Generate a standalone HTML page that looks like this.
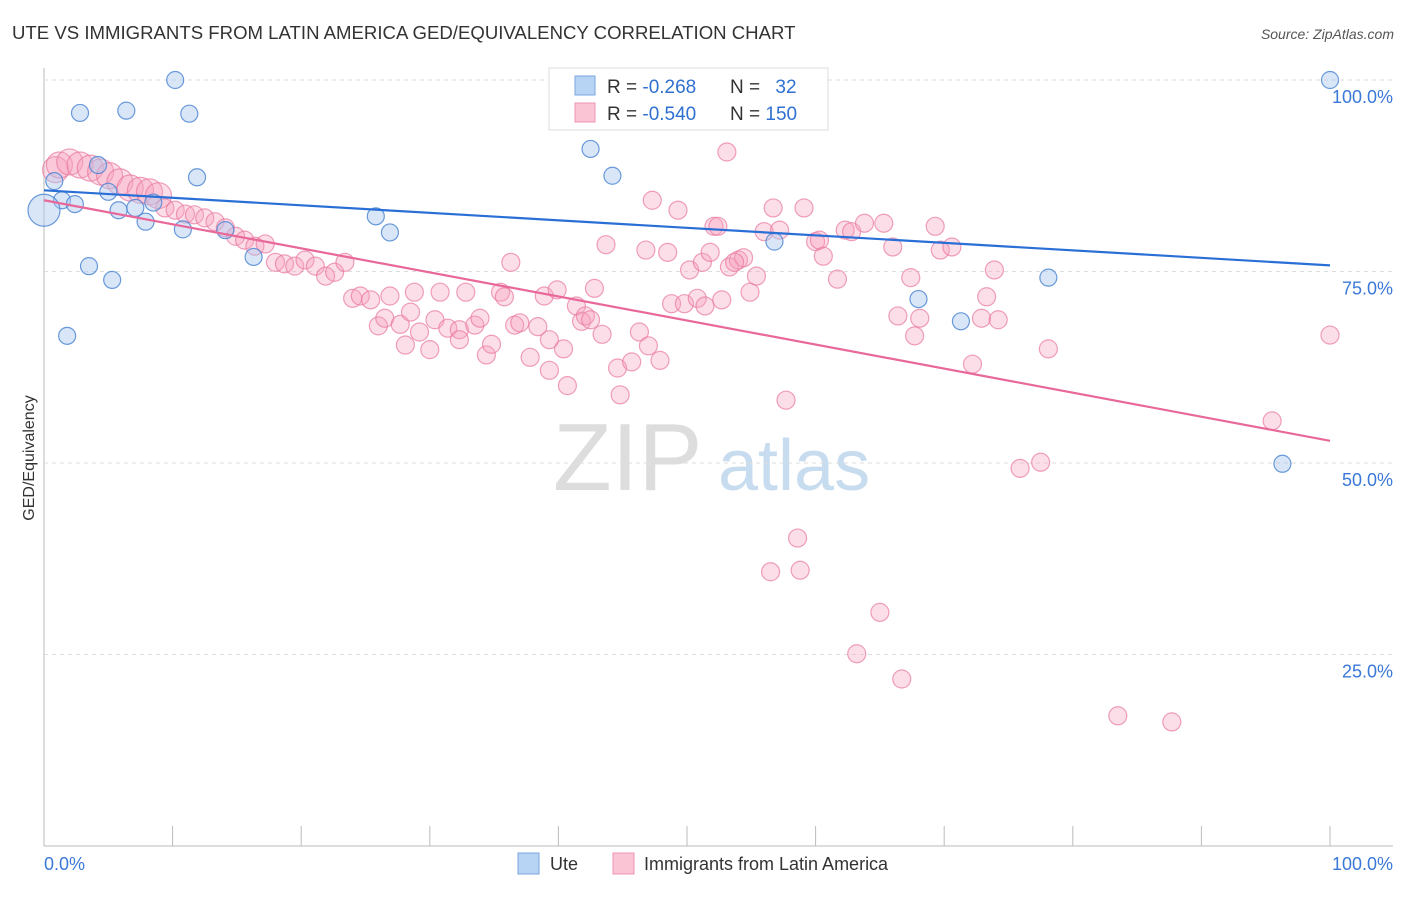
<!DOCTYPE html>
<html><head><meta charset="utf-8"><style>
body{margin:0;background:#fff;font-family:"Liberation Sans",sans-serif;}
svg text{font-family:"Liberation Sans",sans-serif;}
</style></head><body>
<svg id="chart" width="1406" height="892">
<text x="12" y="39" font-size="18.6" fill="#333">UTE VS IMMIGRANTS FROM LATIN AMERICA GED/EQUIVALENCY CORRELATION CHART</text>
<text x="1394" y="39" font-size="14" fill="#555" font-style="italic" text-anchor="end">Source: ZipAtlas.com</text>
<text transform="translate(34,458) rotate(-90)" font-size="16" fill="#333" text-anchor="middle">GED/Equivalency</text>
<g><text x="553" y="490" font-size="96" font-family="Liberation Serif,serif" fill="#ddd">ZIP</text><text x="718" y="490" font-size="72" fill="#c8dcf0">atlas</text></g>
<g id="grid"></g><g id="pts"></g><g id="lines"></g>
<g>
<rect x="549" y="68" width="279" height="62" fill="#fff" stroke="#ddd"/>
<rect x="575" y="76" width="20" height="19" fill="#b8d4f4" stroke="#7aa6dc"/>
<rect x="575" y="103" width="20" height="19" fill="#fbc4d4" stroke="#ee94b0"/>
<text x="607" y="93" font-size="19" fill="#333">R = <tspan fill="#3070d0">-0.268</tspan></text>
<text x="730" y="93" font-size="19" fill="#333">N = <tspan fill="#3070d0" dx="10">32</tspan></text>
<text x="607" y="120" font-size="19" fill="#333">R = <tspan fill="#3070d0">-0.540</tspan></text>
<text x="730" y="120" font-size="19" fill="#333">N = <tspan fill="#3070d0">150</tspan></text>
</g>
<g>
<rect x="518" y="853" width="21" height="21" fill="#b8d4f4" stroke="#7aa6dc"/>
<text x="550" y="870" font-size="18" fill="#333">Ute</text>
<rect x="613" y="853" width="21" height="21" fill="#fbc4d4" stroke="#ee94b0"/>
<text x="644" y="870" font-size="18" fill="#333">Immigrants from Latin America</text>
</g>
<text x="44" y="870" font-size="18" fill="#3b78d8">0.0%</text>
<text x="1393" y="870" font-size="18" fill="#3b78d8" text-anchor="end">100.0%</text>
</svg>
<script>
const yTicks=[100,75,50,25];
const yTickLabels=["100.0%","75.0%","50.0%","25.0%"];
const uteX=[10.2,2.8,6.4,11.3,0.8,4.2,11.9,1.4,2.4,5.0,5.8,7.1,7.9,10.8,14.1,16.3,3.5,5.3,1.8,0,25.8,26.9,42.5,44.2,54.6,56.8,68.0,71.3,78.1,96.3,100,8.5];
const uteY=[100,95.7,96.0,95.6,86.8,88.9,87.3,84.3,83.8,85.4,83.0,83.3,81.5,80.5,80.4,76.9,75.7,73.9,66.6,83.0,82.2,80.1,91.0,87.5,100,78.9,71.4,68.5,74.2,49.9,100,84.0];
const latX=[0.9,1.2,2.0,2.8,3.6,4.4,5.1,5.9,6.7,7.5,8.2,8.9,9.4,10.2,11.0,11.7,12.5,13.3,14.1,14.9,15.6,16.4,17.2,18.0,18.7,19.5,20.3,21.1,21.9,22.6,23.4,24.0,24.6,25.4,26.0,26.5,26.9,27.7,28.5,28.8,29.2,30.4,30.8,31.4,32.3,32.8,33.5,33.9,34.4,34.8,35.5,35.8,36.3,36.6,37.0,37.8,38.4,38.9,39.3,39.9,40.4,40.7,41.4,41.8,42.1,42.8,43.4,43.7,44.6,44.8,45.7,46.3,46.8,47.3,47.9,48.5,48.8,49.3,49.8,50.2,50.8,51.2,51.8,52.1,52.7,53.1,53.3,54.0,54.4,54.9,55.4,56.0,56.7,57.2,57.7,58.6,58.8,59.1,60.0,60.3,60.6,61.7,62.3,62.8,63.2,63.8,65.0,65.3,66.0,66.4,66.7,67.4,67.7,68.1,69.3,69.7,70.6,72.2,72.9,73.3,73.9,74.2,75.9,77.5,78.1,83.5,87.7,95.5,100,56.5,52.4,53.7,51.4,47.0,42.5,32.3,30.0,28.1,39.3];
const latY=[88.3,88.9,89.3,88.9,88.5,88.0,87.5,86.7,85.9,85.6,85.4,84.9,83.3,83.0,82.5,82.4,82.0,81.5,80.7,79.6,79.1,78.3,78.6,76.2,76.0,75.7,76.5,75.7,74.4,74.9,76.2,71.5,71.8,71.3,67.9,68.9,71.8,68.1,69.7,72.3,67.1,68.7,72.3,67.6,67.4,72.3,68.0,68.9,64.1,65.5,72.3,71.7,76.2,68.0,68.3,63.8,67.8,71.8,62.1,72.6,64.9,60.1,70.5,68.5,69.2,72.8,66.8,78.5,62.4,58.9,63.2,67.1,77.8,84.3,63.4,77.5,70.8,83.0,70.8,75.2,71.5,76.2,77.5,80.9,71.3,90.6,75.6,76.5,76.8,72.3,74.4,80.2,83.3,80.4,58.2,40.2,36.0,83.3,78.9,79.1,77.0,74.0,80.4,80.2,25.1,81.3,30.5,81.3,78.2,69.2,21.8,74.2,66.6,68.9,80.9,77.8,78.2,62.9,68.9,71.7,75.2,68.7,49.3,50.1,64.9,17.0,16.2,55.5,66.7,35.8,80.9,76.2,70.5,65.3,68.7,66.1,64.8,65.4,66.1];
const uteTrend=[85.6,75.8];
const latTrend=[84.3,52.9];
const NS='http://www.w3.org/2000/svg';
const X0=44,X1=1330,Y0=846,YS=7.66;
const xs=v=>X0+(X1-X0)*v/100, ys=v=>Y0-v*YS;
function mk(t,a,p){const e=document.createElementNS(NS,t);for(const k in a)e.setAttribute(k,a[k]);p.appendChild(e);return e;}
const grid=document.getElementById('grid');
mk('line',{x1:44,y1:68,x2:44,y2:846,stroke:'#bbb'},grid);
mk('line',{x1:44,y1:846,x2:1393,y2:846,stroke:'#bbb'},grid);
for(let i=0;i<=10;i++){const l=mk('line',{x1:xs(i*10),y1:826,x2:xs(i*10),y2:846,stroke:'#bbb'},grid);

}
yTicks.forEach((v,i)=>{const g=mk('line',{x1:44,y1:ys(v),x2:1393,y2:ys(v),stroke:'#ddd','stroke-dasharray':'4,4'},grid);


const t=mk('text',{x:1393,y:ys(v)+23,'font-size':18,fill:'#3b78d8','text-anchor':'end'},grid);t.textContent=yTickLabels[i];

});
const pts=document.getElementById('pts');
latX.forEach((x,i)=>{const c=mk('circle',{cx:xs(x),cy:ys(latY[i]),r:i<12?13:9,fill:'rgba(246,160,190,0.35)',stroke:'rgba(232,120,160,0.7)','stroke-width':1.2},pts);

});
uteX.forEach((x,i)=>{const c=mk('circle',{cx:xs(x),cy:ys(uteY[i]),r:x===0?16:8.5,fill:'rgba(170,200,240,0.45)',stroke:'rgba(70,130,210,0.8)','stroke-width':1.2},pts);

});
const lines=document.getElementById('lines');
const b=mk('line',{x1:xs(0),y1:ys(uteTrend[0]),x2:xs(100),y2:ys(uteTrend[1]),stroke:'#2a6fd6','stroke-width':2.2},lines);


const p=mk('line',{x1:xs(0),y1:ys(latTrend[0]),x2:xs(100),y2:ys(latTrend[1]),stroke:'#e8689a','stroke-width':2.2},lines);


</script>
</body></html>
